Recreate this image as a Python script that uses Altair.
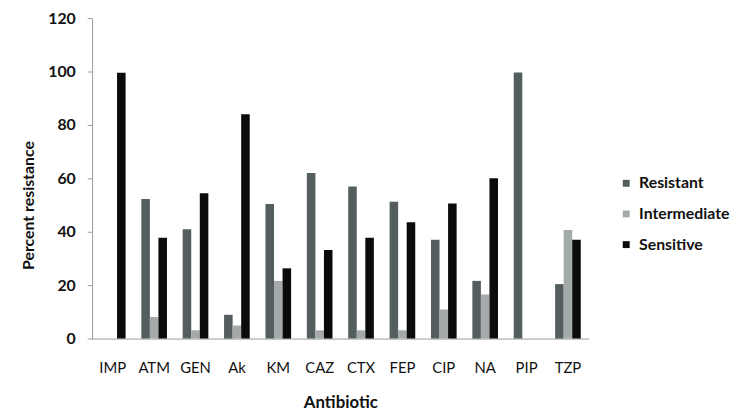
import altair as alt
import pandas as pd

antibiotics = ["IMP", "ATM", "GEN", "Ak", "KM", "CAZ", "CTX", "FEP", "CIP", "NA", "PIP", "TZP"]
resistant = [0, 52.3, 40.9, 8.9, 50.4, 62.0, 56.9, 51.2, 37.0, 21.6, 99.6, 20.4]
intermediate = [0, 8.1, 3.1, 4.9, 21.6, 3.1, 3.1, 3.1, 10.9, 16.5, 0, 40.7]
sensitive = [99.5, 37.8, 54.4, 84.0, 26.3, 33.2, 37.8, 43.6, 50.6, 60.0, 0, 37.0]
series = ["Resistant", "Intermediate", "Sensitive"]
colors = ["#545e5f", "#a4aaa9", "#0b0b0b"]
y_ticks = [0, 20, 40, 60, 80, 100, 120]

rows = []
for i, ab in enumerate(antibiotics):
    for s, vals in zip(series, [resistant, intermediate, sensitive]):
        rows.append({"Antibiotic": ab, "Series": s, "Value": vals[i]})
df = pd.DataFrame(rows)

FONT = "Lato"

chart = alt.Chart(df).mark_bar().encode(
    x=alt.X("Antibiotic:N", sort=antibiotics,
            scale=alt.Scale(paddingInner=0.38, paddingOuter=0.19),
            axis=alt.Axis(title="Antibiotic", labelAngle=0, ticks=False,
                          domainColor="#9a9a9a", labelFontSize=15, labelFont=FONT,
                          labelColor="#111111", labelPadding=22,
                          titleFont=FONT, titleFontSize=17, titleFontWeight="bold",
                          titleColor="#111111", titlePadding=20)),
    xOffset=alt.XOffset("Series:N", sort=series),
    y=alt.Y("Value:Q", scale=alt.Scale(domain=[0, 120], nice=False),
            axis=alt.Axis(title="Percent resistance", values=y_ticks, grid=False,
                          domainColor="#9a9a9a", tickColor="#9a9a9a", tickSize=5,
                          labelFontSize=16, labelFont=FONT, labelFontWeight="bold",
                          labelColor="#111111", labelPadding=12,
                          titleFont=FONT, titleFontSize=16, titleFontWeight="bold",
                          titleColor="#111111", titleAngle=270,
                          titleX=-64, titleY=189, titleAlign="center",
                          titleBaseline="middle")),
    color=alt.Color("Series:N", sort=series,
                    scale=alt.Scale(domain=series, range=colors),
                    legend=alt.Legend(title=None, orient="none", legendX=532, legendY=159,
                                      symbolType="square", symbolSize=49,
                                      symbolStrokeWidth=0, labelFont=FONT,
                                      labelFontSize=16, labelFontWeight="bold",
                                      labelColor="#111111", rowPadding=15,
                                      labelOffset=5, padding=0)),
).properties(
    width=502, height=324,
    background="white",
    autosize=alt.AutoSizeParams(type="none"),
    padding={"left": 85, "top": 8, "right": 150, "bottom": 71},
).configure_view(stroke=None)

chart.save("out.html", embed_options={"renderer": "svg", "actions": False})
